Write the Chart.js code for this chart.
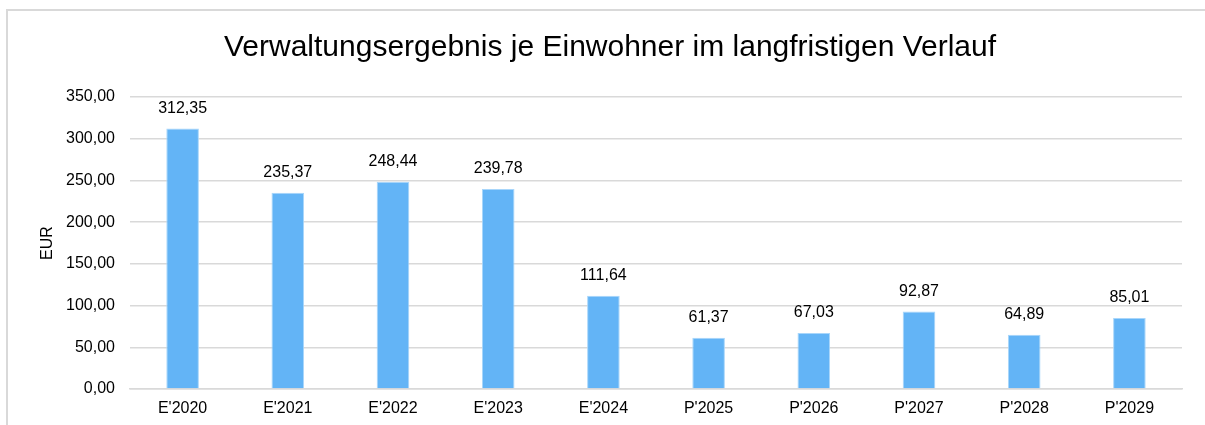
<!DOCTYPE html>
<html>
<head>
<meta charset="utf-8">
<script src="https://cdn.jsdelivr.net/npm/chart.js@4"></script>
<style>
  html, body { margin: 0; padding: 0; background: #fff; }
  #wrap { position: relative; width: 1205px; height: 425px; overflow: hidden; }
  #rahmen { position: absolute; left: 6px; top: 9px; width: 1300px; height: 500px;
            border-top: 2px solid #d9d9d9; border-left: 2px solid #d9d9d9; }
  canvas { position: absolute; left: 0; top: 0; }
</style>
</head>
<body>
<div id="wrap">
  <div id="rahmen"></div>
  <canvas id="myBarChart" width="1205" height="425"></canvas>
</div>
<script>
const jahre = ["E'2020", "E'2021", "E'2022", "E'2023", "E'2024", "P'2025", "P'2026", "P'2027", "P'2028", "P'2029"];
const werte = [312.35, 235.37, 248.44, 239.78, 111.64, 61.37, 67.03, 92.87, 64.89, 85.01];
const yMin = 0, yMax = 350, yStep = 50;

const schrift = '"Liberation Sans", Arial, sans-serif';
const fmt = (v) => Number(v).toFixed(2).replace('.', ',');

// Werte ueber den Balken
const wertLabels = {
  id: 'wertLabels',
  afterDatasetsDraw(chart) {
    const ctx = chart.ctx;
    const meta = chart.getDatasetMeta(0);
    ctx.save();
    ctx.font = '16px ' + schrift;
    ctx.fillStyle = '#000';
    ctx.textAlign = 'center';
    ctx.textBaseline = 'middle';
    meta.data.forEach((bar, i) => {
      ctx.fillText(fmt(werte[i]), bar.x, bar.y - 20);
    });
    ctx.restore();
  }
};

const barra = document.getElementById('myBarChart').getContext('2d');
const grafica = new Chart(barra, {
  type: 'bar',
  data: {
    labels: jahre,
    datasets: [{
      label: 'EUR',
      data: werte,
      backgroundColor: '#63b4f6',
      borderColor: '#a8d6fb',
      borderWidth: 1,
      categoryPercentage: 1,
      barPercentage: 0.31
    }]
  },
  options: {
    responsive: false,
    animation: false,
    layout: { padding: { left: 38, right: 23, top: 0, bottom: 0 } },
    plugins: {
      legend: { display: false },
      tooltip: { enabled: false },
      title: {
        display: true,
        text: 'Verwaltungsergebnis je Einwohner im langfristigen Verlauf',
        color: '#000',
        font: { family: schrift, size: 30, weight: 'normal' },
        padding: { top: 30, bottom: 31 }
      }
    },
    scales: {
      x: {
        afterFit: (s) => { s.height = 36; },
        grid: { display: false, drawTicks: false },
        border: { display: true, color: '#d9d9d9', width: 1.5 },
        ticks: {
          color: '#000',
          padding: 10,
          font: { family: schrift, size: 16 }
        }
      },
      y: {
        min: yMin,
        max: yMax,
        afterFit: (s) => { s.width = 92; },
        grid: { color: '#d9d9d9', lineWidth: 1.5, drawTicks: false },
        border: { display: false },
        title: {
          display: true,
          text: 'EUR',
          color: '#000',
          font: { family: schrift, size: 16 },
          padding: 0
        },
        ticks: {
          stepSize: yStep,
          color: '#000',
          padding: 15,
          font: { family: schrift, size: 16 },
          callback: (v) => fmt(v)
        }
      }
    }
  },
  plugins: [wertLabels]
});
</script>
</body>
</html>
